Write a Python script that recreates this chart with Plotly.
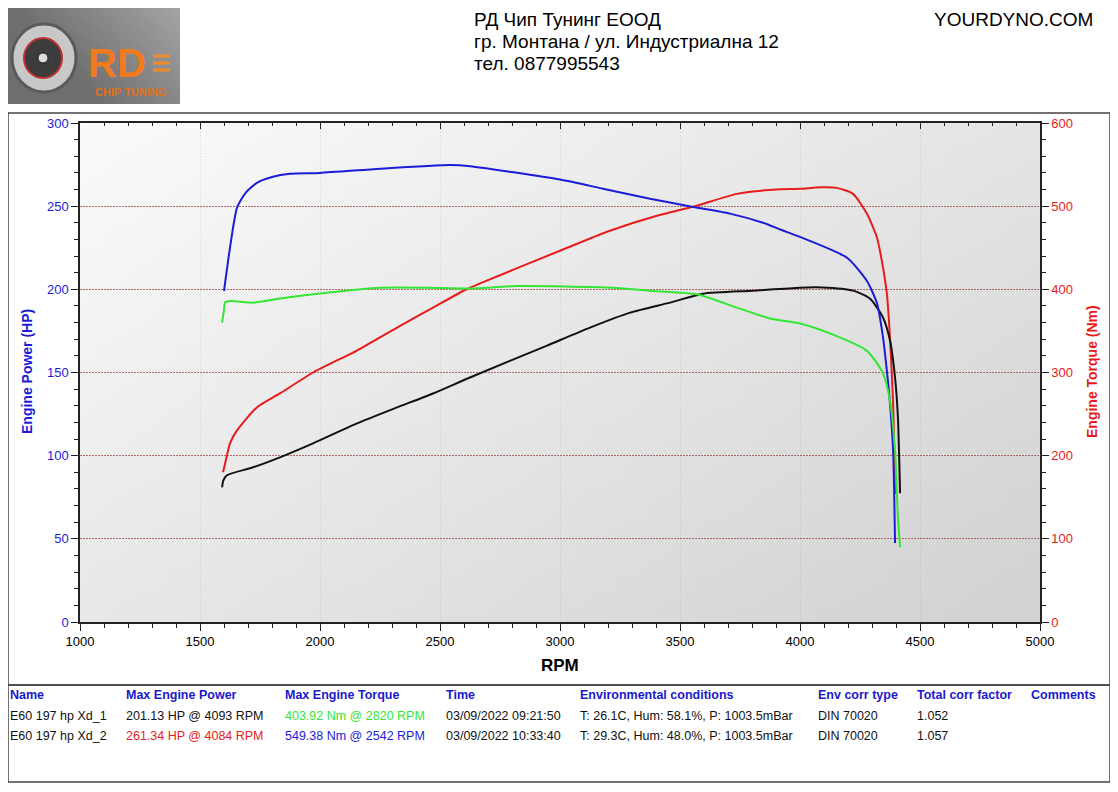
import base64, struct, zlib
import plotly.graph_objects as go

# ---------------- data ----------------
rpm_power_1 = [1592, 1597, 1612, 1721, 1833, 1971, 2154, 2321, 2471, 2625, 2946, 3125, 3292, 3458,
               3596, 3804, 4000, 4093, 4221, 4292, 4346, 4375, 4396, 4408, 4417]
power_1_hp = [81, 85, 88.2, 93, 99, 107.4, 119.4, 129, 137.4, 147, 166.2, 177, 186, 192,
              197.4, 199.2, 201, 201.1, 199.2, 194.4, 183, 169.2, 147, 123, 77.4]

rpm_torque_1 = [1592, 1600, 1604, 1625, 1721, 1833, 2000, 2250, 2446, 2625, 2820, 3221, 3387, 3571,
                3737, 3875, 4000, 4125, 4279, 4346, 4375, 4396, 4408, 4417]
torque_1_nm = [360, 375, 384, 386, 384, 389, 395, 402, 402, 401, 403.9, 402, 398, 394,
               378, 365, 359, 347, 326, 299, 266, 206, 126, 90]

rpm_power_2 = [1596, 1612, 1625, 1654, 1737, 1833, 1971, 2154, 2321, 2471, 2596, 2667, 3000, 3208,
               3404, 3554, 3737, 3900, 4000, 4084, 4154, 4221, 4279, 4321, 4346, 4362, 4375, 4388, 4396]
power_2_hp = [90, 100, 107.4, 115.2, 129, 137.4, 150, 163.2, 177, 189, 199, 203.6, 223.2, 235.2,
              244.2, 249.6, 257.4, 260, 260.4, 261.3, 261, 257.4, 245.4, 231, 213, 197.4, 171, 131.4, 77]

rpm_torque_2 = [1600, 1625, 1654, 1690, 1737, 1800, 1875, 2000, 2250, 2542, 2625, 3000, 3179, 3375,
                3554, 3708, 3846, 3917, 4000, 4196, 4279, 4321, 4346, 4362, 4375, 4388, 4396]
torque_2_nm = [398, 450, 498, 516, 528, 535, 539, 540, 545, 549.4, 548, 532, 521, 509,
               499, 491, 480, 472, 463, 438, 410, 383, 342, 302, 263, 206, 95]

x_ticks = [1000, 1500, 2000, 2500, 3000, 3500, 4000, 4500, 5000]
hp_ticks = [0, 50, 100, 150, 200, 250, 300]
nm_ticks = [0, 100, 200, 300, 400, 500, 600]

header_lines = ["РД Чип Тунинг ЕООД", "гр. Монтана / ул. Индустриална 12", "тел. 0877995543"]
site_name = "YOURDYNO.COM"

table_headers = ["Name", "Max Engine Power", "Max Engine Torque", "Time",
                 "Environmental conditions", "Env corr type", "Total corr factor", "Comments"]
table_rows = [
    ["E60 197 hp Xd_1", "201.13 HP @ 4093 RPM", "403.92 Nm @ 2820 RPM", "03/09/2022 09:21:50",
     "T: 26.1C, Hum: 58.1%, P: 1003.5mBar", "DIN 70020", "1.052", ""],
    ["E60 197 hp Xd_2", "261.34 HP @ 4084 RPM", "549.38 Nm @ 2542 RPM", "03/09/2022 10:33:40",
     "T: 29.3C, Hum: 48.0%, P: 1003.5mBar", "DIN 70020", "1.057", ""],
]

# ---------------- styling ----------------
OFF = 8                      # page body margin of the browser
W, H = 1102, 776             # figure size (fits the 1118x792 window with the body margin)
SL, SR, ST, SB = 80, 1040, 123, 622   # plot area in screen pixels
PL, PR, PT, PB = SL - OFF, SR - OFF, ST - OFF, SB - OFF
FONT = "Arial, Liberation Sans, sans-serif"
BLUE = "#1c1cd8"
RED = "#e81c1c"
GREEN = "#33e633"
BLACK = "#111111"
HDR_BLUE = "#1a1acc"


def px(x):   # screen pixel -> paper x
    return (x - SL) / (SR - SL)


def py(y):   # screen pixel -> paper y
    return (SB - y) / (SB - ST)


def gradient_png(w, h, c0, c1, wx=0.55, wy=0.45):
    rows = []
    for j in range(h):
        row = bytearray([0])
        for i in range(w):
            t = (i / (w - 1)) * wx + (j / (h - 1)) * wy
            t = min(max(t, 0.0), 1.0)
            row += bytes(int(c0[k] + t * (c1[k] - c0[k])) for k in range(3))
        rows.append(bytes(row))
    raw = b"".join(rows)

    def chunk(tag, data):
        return struct.pack(">I", len(data)) + tag + data + struct.pack(">I", zlib.crc32(tag + data) & 0xffffffff)

    png = (b"\x89PNG\r\n\x1a\n" + chunk(b"IHDR", struct.pack(">IIBBBBB", w, h, 8, 2, 0, 0, 0))
           + chunk(b"IDAT", zlib.compress(raw)) + chunk(b"IEND", b""))
    return "data:image/png;base64," + base64.b64encode(png).decode()


fig = go.Figure()
fig.add_trace(go.Scatter(x=rpm_torque_2, y=torque_2_nm, yaxis="y2", mode="lines",
                         line=dict(color=BLUE, width=2, shape="spline", smoothing=0.6), name="Torque 2"))
fig.add_trace(go.Scatter(x=rpm_power_2, y=power_2_hp, mode="lines",
                         line=dict(color=RED, width=2, shape="spline", smoothing=0.6), name="Power 2"))
fig.add_trace(go.Scatter(x=rpm_torque_1, y=torque_1_nm, yaxis="y2", mode="lines",
                         line=dict(color=GREEN, width=2, shape="spline", smoothing=0.6), name="Torque 1"))
fig.add_trace(go.Scatter(x=rpm_power_1, y=power_1_hp, mode="lines",
                         line=dict(color=BLACK, width=2, shape="spline", smoothing=0.6), name="Power 1"))
# invisible trace to activate the top mirror axis
fig.add_trace(go.Scatter(x=[x_ticks[0], x_ticks[-1]], y=[None, None], xaxis="x2",
                         mode="lines", showlegend=False, hoverinfo="skip"))

axis_common = dict(showline=True, linecolor="#222", linewidth=1.5, zeroline=False,
                   ticks="outside", tickcolor="#222", ticklen=7, tickwidth=1)

fig.update_layout(
    width=W, height=H,
    margin=dict(l=PL, r=W - PR, t=PT, b=H - PB),
    paper_bgcolor="white",
    plot_bgcolor="rgba(0,0,0,0)",
    showlegend=False,
    font=dict(family=FONT, size=13, color="black"),
    xaxis=dict(range=[x_ticks[0], x_ticks[-1]], tickvals=x_ticks, **axis_common,
               showgrid=True, gridcolor="rgba(150,150,150,0.3)", griddash="1px,2px", gridwidth=1,
               minor=dict(dtick=100, ticks="outside", ticklen=4, tickcolor="#222", showgrid=False),
               tickfont=dict(size=13, color="black")),
    xaxis2=dict(range=[x_ticks[0], x_ticks[-1]], overlaying="x", side="top", showline=True,
                linecolor="#222", linewidth=1.5, ticks="inside", ticklen=6, tickcolor="#222",
                tickvals=x_ticks, showticklabels=False, showgrid=False, zeroline=False,
                minor=dict(dtick=100, ticks="inside", ticklen=3, tickcolor="#222")),
    yaxis=dict(range=[hp_ticks[0], hp_ticks[-1]], tickvals=hp_ticks, **axis_common,
               showgrid=True, gridcolor="rgba(225,70,70,0.9)", griddash="1px,2px", gridwidth=1,
               minor=dict(dtick=10, ticks="outside", ticklen=4, tickcolor="#222", showgrid=False),
               tickfont=dict(size=13, color=BLUE)),
    yaxis2=dict(range=[nm_ticks[0], nm_ticks[-1]], tickvals=nm_ticks, overlaying="y", side="right",
                **axis_common, showgrid=True, gridcolor="rgba(50,50,50,0.6)",
                griddash="0px,1px,1px,1px", gridwidth=1,
                minor=dict(dtick=20, ticks="outside", ticklen=4, tickcolor="#222", showgrid=False),
                tickfont=dict(size=13, color=RED)),
)

# plot background gradient
fig.add_layout_image(dict(source=gradient_png(96, 50, (251, 251, 251), (210, 210, 210)),
                          xref="paper", yref="paper", x=0, y=1, sizex=1, sizey=1,
                          sizing="stretch", layer="below"))

# logo background
fig.add_layout_image(dict(source=gradient_png(60, 34, (110, 110, 110), (200, 200, 200), 0.6, -0.3),
                          xref="paper", yref="paper", x=px(8), y=py(8), sizex=px(180) - px(8),
                          sizey=py(8) - py(104), sizing="stretch", layer="above"))

shapes = []
# chart frame and table frame
shapes.append(dict(type="rect", xref="paper", yref="paper", x0=px(8), x1=px(1110), y0=py(685), y1=py(113),
                   line=dict(color="#444", width=1.5)))
shapes.append(dict(type="rect", xref="paper", yref="paper", x0=px(8), x1=px(1110), y0=py(782), y1=py(685),
                   line=dict(color="#444", width=1.5)))
# logo turbo drawing
shapes.append(dict(type="circle", xref="paper", yref="paper", x0=px(12), x1=px(76), y0=py(92), y1=py(24),
                   fillcolor="#c8c8c8", line=dict(color="#5a5a5a", width=3)))
shapes.append(dict(type="circle", xref="paper", yref="paper", x0=px(24), x1=px(62), y0=py(78), y1=py(38),
                   fillcolor="#3c3c3c", line=dict(color="#c03030", width=2)))
shapes.append(dict(type="circle", xref="paper", yref="paper", x0=px(38), x1=px(48), y0=py(63), y1=py(53),
                   fillcolor="#dddddd", line=dict(color="#222", width=1)))
# orange speed stripes right of the letters
for yy in (56, 63, 70):
    shapes.append(dict(type="line", xref="paper", yref="paper", x0=px(153), x1=px(170), y0=py(yy), y1=py(yy),
                       line=dict(color="#f08a2a", width=3)))
fig.update_layout(shapes=shapes)

ann = []


def add_text(text, x, y, size, color, xanchor="left", yanchor="middle", angle=0):
    ann.append(dict(text=text, x=px(x), y=py(y), xref="paper", yref="paper",
                    xanchor=xanchor, yanchor=yanchor, textangle=angle, showarrow=False,
                    font=dict(family=FONT, size=size, color=color)))


# logo text
add_text("<b>RD</b>", 117, 63, 40, "#f27a1e", xanchor="center")
add_text("<b>CHIP TUNING</b>", 130, 92, 11, "#e0701a", xanchor="center")

# header
for i, line in enumerate(header_lines):
    add_text(line, 472, 19 + 22 * i, 19, "black")
add_text(site_name, 1095, 19, 19, "black", xanchor="right")

# axis titles
add_text("<b>Engine Power (HP)</b>", 27, 372, 14, BLUE, xanchor="center", angle=-90)
add_text("<b>Engine Torque (Nm)</b>", 1092, 372, 14, RED, xanchor="center", angle=-90)
add_text("<b>RPM</b>", 560, 665, 17, "black", xanchor="center")

# table
col_x = [8, 124, 283, 444, 578, 816, 915, 1029]
row_colors = [
    [BLACK, BLACK, GREEN, BLACK, BLACK, BLACK, BLACK, BLACK],
    [BLACK, RED, BLUE, BLACK, BLACK, BLACK, BLACK, BLACK],
]
for cx, h in zip(col_x, table_headers):
    add_text(f"<b>{h}</b>", cx, 695, 12.5, HDR_BLUE)
for r, row in enumerate(table_rows):
    for c, (cx, val) in enumerate(zip(col_x, row)):
        if val:
            add_text(val, cx, 716 + 20 * r, 12.5, row_colors[r][c])

fig.update_layout(annotations=ann)
fig.write_html("out.html")
